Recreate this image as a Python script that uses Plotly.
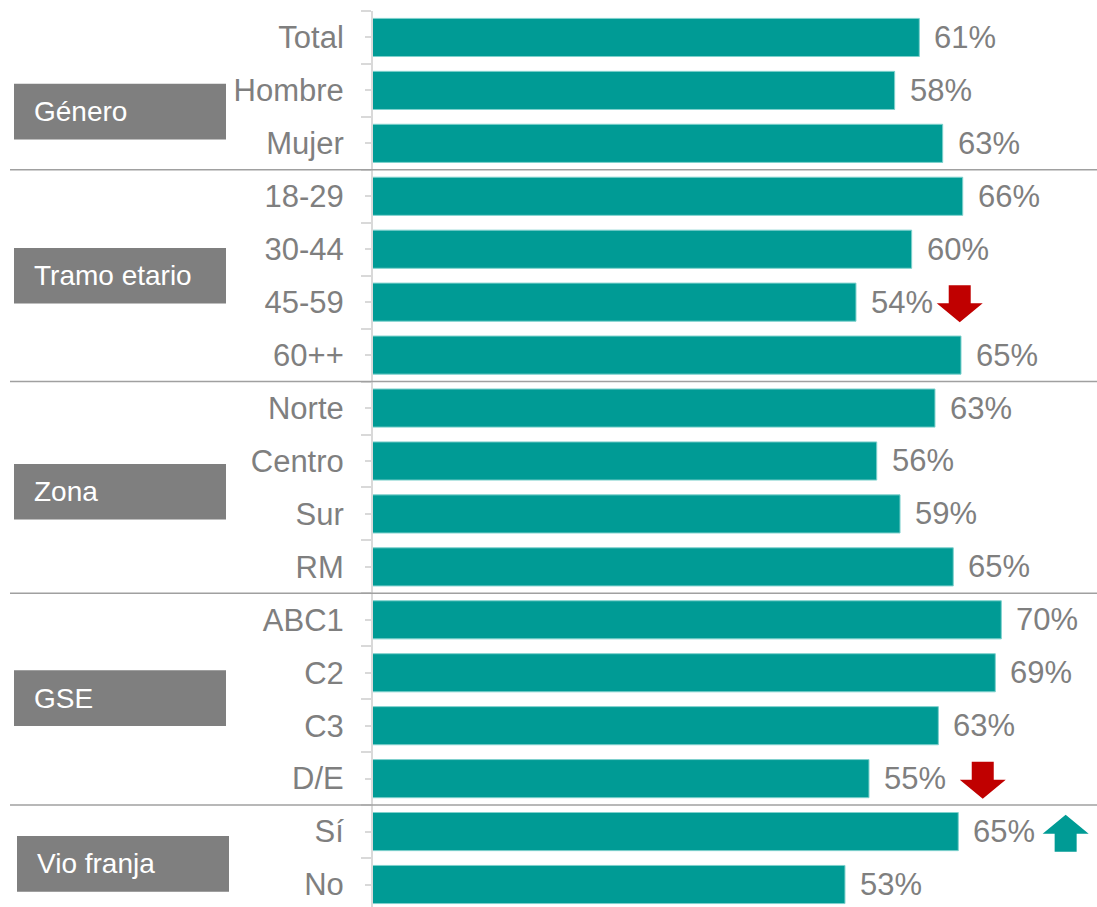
import plotly.graph_objects as go

# ---- data ----
categories = ["Total", "Hombre", "Mujer", "18-29", "30-44", "45-59", "60++",
              "Norte", "Centro", "Sur", "RM", "ABC1", "C2", "C3", "D/E", "Sí", "No"]
# values (labels show them rounded)
values = [60.87, 58.16, 63.44, 65.64, 60.03, 53.91, 65.45,
          62.59, 56.19, 58.75, 64.60, 69.88, 69.22, 62.96, 55.34, 65.15, 52.70]

groups = ["Género", "Tramo etario", "Zona", "GSE", "Vio franja"]
group_sizes = [3, 4, 4, 4, 2]

sig_rows = ["45-59", "D/E", "Sí"]
sig_dirs = ["down", "down", "up"]

# ---- style / layout ----
W, H = 1097, 907
ML, MT = 373, 11
PX_PER_UNIT = 9.10           # x pixels per percentage point
ROW_PX = 52.94               # pixels per row
X0 = (ML - 365.4) / PX_PER_UNIT
X1 = X0 + (W - ML) / PX_PER_UNIT
Y_TOP = -0.5
Y_BOT = Y_TOP + (H - MT) / ROW_PX

TEAL = "#009B95"
RED = "#C00000"
GRAY_TXT = "#7F7F7F"
BOX = "#7F7F7F"
FONT = "Liberation Sans, Arial, sans-serif"


def px_to_paper(px):
    return (px - ML) / (W - ML)


ys = list(range(len(categories)))

fig = go.Figure(go.Bar(
    x=values, y=ys, orientation="h", width=0.72,
    marker=dict(color=TEAL, line=dict(color="#7FD1CD", width=1)),
    hoverinfo="x+y",
))

annotations = []
shapes = []

# value labels
for y, v in zip(ys, values):
    annotations.append(dict(
        x=v, y=y, xref="x", yref="y", text=f"{round(v)}%", showarrow=False,
        xanchor="left", yanchor="middle", xshift=13,
        font=dict(family=FONT, size=31, color=GRAY_TXT)))

# separators and group boxes
box_center_adj = [0.4, 0.0, 0.08, -0.02, 0.11]
box_x_left = [14, 14, 14, 14, 17]
start = 0
for gi, (g, n) in enumerate(zip(groups, group_sizes)):
    end = start + n - 1
    if gi > 0:
        shapes.append(dict(type="line", xref="paper", yref="y",
                           x0=px_to_paper(10), x1=1, y0=start - 0.5, y1=start - 0.5,
                           line=dict(color="#A0A0A0", width=1.5)))
    cy = (start + end) / 2 + box_center_adj[gi]
    bx0 = box_x_left[gi]
    shapes.append(dict(type="rect", xref="paper", yref="y",
                       x0=px_to_paper(bx0), x1=px_to_paper(bx0 + 212),
                       y0=cy - 0.525, y1=cy + 0.525,
                       fillcolor=BOX, line=dict(width=0), layer="above"))
    annotations.append(dict(x=px_to_paper(bx0 + 18), y=cy, xref="paper", yref="y",
                            text=g, showarrow=False, xanchor="left", yanchor="middle",
                            font=dict(family=FONT, size=28, color="white")))
    start += n

# significance arrows
arrow_offsets = [11.4, 12.5, 11.8]
half_w = 23 / PX_PER_UNIT
shaft_w = 11 / PX_PER_UNIT
half_h = 18.5 / ROW_PX
head_h = 19 / ROW_PX
for row, d, off in zip(sig_rows, sig_dirs, arrow_offsets):
    i = categories.index(row)
    cx = values[i] + off
    cy = i + 0.03
    top, bot = cy - half_h, cy + half_h
    if d == "down":
        hb = bot - head_h
        path = (f"M {cx-shaft_w},{top} L {cx+shaft_w},{top} L {cx+shaft_w},{hb} "
                f"L {cx+half_w},{hb} L {cx},{bot} L {cx-half_w},{hb} L {cx-shaft_w},{hb} Z")
        col = RED
    else:
        hb = top + head_h
        path = (f"M {cx-shaft_w},{bot} L {cx+shaft_w},{bot} L {cx+shaft_w},{hb} "
                f"L {cx+half_w},{hb} L {cx},{top} L {cx-half_w},{hb} L {cx-shaft_w},{hb} Z")
        col = TEAL
    shapes.append(dict(type="path", xref="x", yref="y", path=path,
                       fillcolor=col, line=dict(width=0)))

fig.update_layout(
    width=W, height=H,
    margin=dict(l=ML, r=0, t=MT, b=0, pad=0),
    plot_bgcolor="white", paper_bgcolor="white",
    showlegend=False,
    bargap=0.28,
    xaxis=dict(range=[X0, X1], visible=False, fixedrange=True),
    yaxis=dict(range=[Y_BOT, Y_TOP], tickmode="array", tickvals=ys, ticktext=categories,
               showline=True, linecolor="#D9D9D9", linewidth=2,
               ticks="outside", ticklen=6, tickcolor="#D9D9D9", tickwidth=1.5,
               ticklabelstandoff=15,
               minor=dict(tickmode="array", tickvals=[i - 0.5 for i in ys] + [ys[-1] + 0.5],
                          ticks="outside", ticklen=10, tickcolor="#D9D9D9", tickwidth=1.5),
               tickfont=dict(family=FONT, size=31, color=GRAY_TXT),
               showgrid=False, zeroline=False, fixedrange=True),
    annotations=annotations,
    shapes=shapes,
)

fig.write_html("out.html", config={"displayModeBar": False},
               post_script="document.body.style.margin='0';document.body.style.overflow='hidden';")
